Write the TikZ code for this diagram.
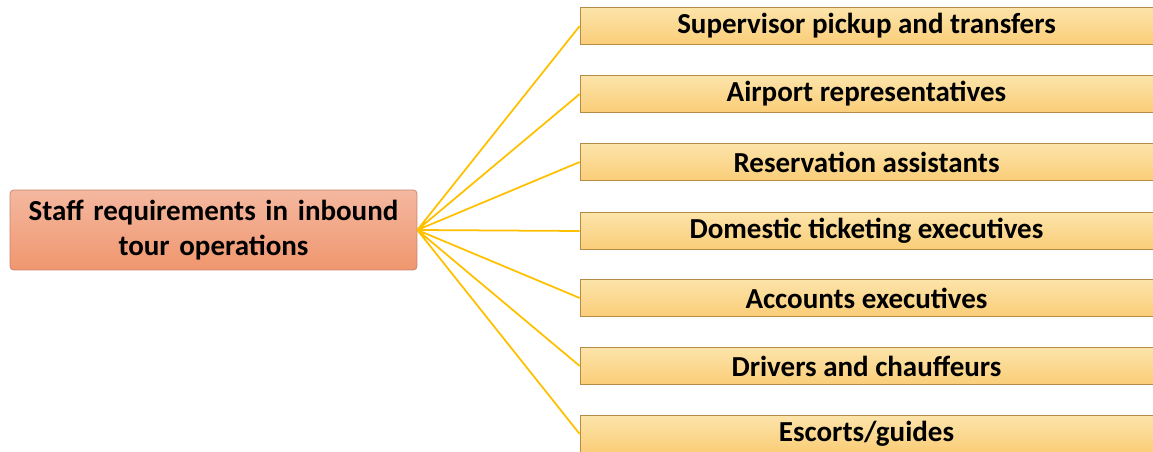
\documentclass[tikz,border=0pt]{standalone}
\usepackage{fontspec}
\setmainfont{Carlito}
\usepackage{tikz}

\definecolor{linkgold}{RGB}{255,192,0}
\definecolor{roottop}{RGB}{244,184,160}
\definecolor{rootbot}{RGB}{240,150,110}
\definecolor{rootedge}{RGB}{200,130,110}
\definecolor{itemtop}{RGB}{252,228,170}
\definecolor{itembot}{RGB}{250,205,120}
\definecolor{itemedge}{RGB}{180,140,70}

\tikzset{
  rootbox/.style={draw=rootedge, top color=roottop, bottom color=rootbot, rounded corners=2pt,
    minimum width=8.14cm, minimum height=1.6cm, text width=7.9cm, align=center, inner sep=0pt,
    font=\fontsize{16.5}{19.5}\selectfont\bfseries},
  itembox/.style={draw=itemedge, top color=itemtop, bottom color=itembot,
    minimum width=11.46cm, minimum height=0.74cm, inner sep=0pt,
    font=\fontsize{16.5}{19.5}\selectfont\bfseries},
  link/.style={draw=linkgold, line width=1pt}
}

\begin{document}
\begin{tikzpicture}[x=0.02cm,y=-0.02cm]
      \useasboundingbox (0,0) rectangle (1153,452);
      %%%%%%%%%%%%%%%%%%%%%%%%%%%%%%%%%%%%%%%%%%%%%%%
      \node[rootbox] at (213.5,230) (root) {Staff requirements in inbound\\tour operations};
      %%%%%%%%%%%%%%%%%%%%%%%%%%%%%%%%%%%%%%%%%%%%%%%
      \node[itembox] at (866.5,26)  (r1) {Supervisor pickup and transfers};
      \node[itembox] at (866.5,94)  (r2) {Airport representatives};
      \node[itembox] at (866.5,162) (r3) {Reservation assistants};
      \node[itembox] at (866.5,231) (r4) {Domestic ticketing executives};
      \node[itembox] at (866.5,298) (r5) {Accounts executives};
      \node[itembox] at (866.5,366) (r6) {Drivers and chauffeurs};
      \node[itembox] at (866.5,434) (r7) {Escorts/guides};
      %%%%%%%%%%%%%%%%%%%%%%%%%%%%%%%%%%%%%%%%%%%%%%%
      \draw[link] (root.east) -- (r1.west)
                  (root.east) -- (r2.west)
                  (root.east) -- (r3.west)
                  (root.east) -- (r4.west)
                  (root.east) -- (r5.west)
                  (root.east) -- (r6.west)
                  (root.east) -- (r7.west);
      %%%%%%%%%%%%%%%%%%%%%%%%%%%%%%%%%%%%%%%%%%%%%%%
\end{tikzpicture}
\end{document}
